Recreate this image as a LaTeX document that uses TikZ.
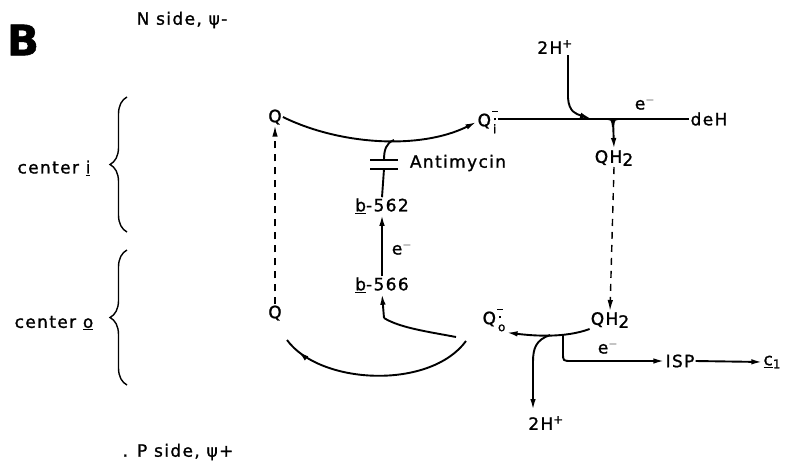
\documentclass[tikz,border=0pt]{standalone}
\usepackage{fontspec}
\setmainfont{DejaVu Sans}[LetterSpace=8,FakeBold=1.2]
\usetikzlibrary{arrows.meta,decorations.pathreplacing,decorations.markings}
\newcommand{\qrad}[1]{Q\kern1pt\rlap{\raisebox{14pt}{\rule{6pt}{1.5pt}}}\rlap{\raisebox{6pt}{\kern2pt\rule{2.2pt}{2.2pt}}}\raisebox{-7pt}{\kern1pt\fontsize{12}{12}\selectfont #1}}
\begin{document}
\begin{tikzpicture}[x=1pt,y=-1pt,
  lbl/.style={font=\fontsize{17}{20}\selectfont, inner sep=1pt},
  ln/.style={line width=1.9pt},
  arr/.style={ln,-{Latex[length=11pt,width=5.5pt]}},
  dsh/.style={line width=1.4pt,dash pattern=on 7pt off 6pt,-{Latex[length=11pt,width=5.5pt]}},
  brc/.style={line width=1.4pt,decorate,decoration={brace,amplitude=17pt}},
  mid arrow/.style={postaction={decorate},decoration={markings,mark=at position #1 with {\arrow{Latex[length=11pt,width=5.5pt]}}}}
]
\useasboundingbox (0,0) rectangle (794,466);

% labels
\node[lbl,font=\fontsize{42}{42}\selectfont\bfseries] (B) at (23,40) {B};
\node[lbl] (nside) at (182,20) {N side, ψ-};
\node[lbl] (pside) at (178,452) {. P side, ψ+};
\node[lbl] (centi) at (54,168) {center \underline{i}};
\node[lbl] (cento) at (54,323) {center \underline{o}};

\draw[brc] (127,232) -- (127,97);
\draw[brc] (127,385) -- (127,250);

% left column
\node[lbl] (qtop) at (275,117) {Q};
\node[lbl] (qbot) at (275,313) {Q};
\node[lbl] (qi) at (487,122) {\qrad{i}};
\node[lbl] (antim) at (458,163) {Antimycin};
\node[lbl] (b562) at (382,206) {\underline{b}-562};
\node[lbl] (b566) at (382,285) {\underline{b}-566};
\node[lbl] (e1) at (402,248) {e$^{-}$};

% right column
\node[lbl] (hp1) at (555,47) {2H\textsuperscript{+}};
\node[lbl] (deh) at (709,119) {deH};
\node[lbl] (e2) at (645,103) {e$^{-}$};
\node[lbl] (qh2a) at (614,158) {QH\raisebox{-3pt}{2}};
\node[lbl] (qh2b) at (610,320) {QH\raisebox{-3pt}{2}};
\node[lbl] (qo) at (494,320) {\qrad{o}};
\node[lbl] (hp2) at (546,423) {2H\textsuperscript{+}};
\node[lbl] (e3) at (608,347) {e$^{-}$};
\node[lbl] (isp) at (680,361) {ISP};
\node[lbl] (c1) at (772,362) {\underline{c}\raisebox{-3pt}{\fontsize{12}{12}\selectfont 1}};

% coordinates
\coordinate (ab) at (394,140);
\coordinate (bar1) at (384,160);
\coordinate (bar2) at (384,169);
\coordinate (j1) at (384,318);
\coordinate (j1e) at (456,337);
\coordinate (bc1) at (466,341);
\coordinate (bc2) at (287,340);
\coordinate (jt) at (613,119);
\coordinate (hbend) at (568,98);
\coordinate (jb) at (550,335);
\coordinate (jr) at (563,335);
\coordinate (h2top) at (533,410);

% left connectors
\draw[dsh] (qbot.north) -- (qtop.south);
\draw[arr] (qtop.east) .. controls (340,145) and (420,150) .. (qi.west);
\draw[ln] (ab) .. controls (386,143) and (384,150) .. (bar1);
\draw[ln] (370,160) -- (398,160);
\draw[ln] (370,169) -- (398,169);
\draw[ln] (bar2) -- (b562.north);
\draw[arr] (b566.north) -- (b562.south);
\draw[arr] (j1) -- (b566.south);
\draw[ln] (j1) .. controls (400,328) and (430,332) .. (j1e);
\draw[ln,mid arrow=0.92] (bc1) .. controls (430,390) and (320,385) .. (bc2);

% right connectors
\draw[ln] (hp1.south -| hbend) -- (hbend);
\draw[arr] (hbend) .. controls (569,112) and (576,114) .. (591,118.5);
\draw[ln] (qi.east |- jt) -- (deh.west |- jt);
\draw[ln] (605,119) .. controls (612,119) .. (613,127);
\draw[ln] (621,119) .. controls (614,119) .. (613,127);
\draw[arr] (jt) -- (qh2a.north);
\draw[dsh] (qh2a.south) -- (qh2b.north);
\draw[arr] (qh2b.south west) .. controls (565,338) and (535,336) .. (qo.south east);
\draw[arr] (jb) .. controls (536,340) and (533,348) .. (533,362) -- (h2top);
\draw[arr] (jr) -- (563,353) .. controls (563,361) .. (572,361) -- (isp.west);
\draw[arr] (isp.east) -- (c1.west);
\end{tikzpicture}
\end{document}
